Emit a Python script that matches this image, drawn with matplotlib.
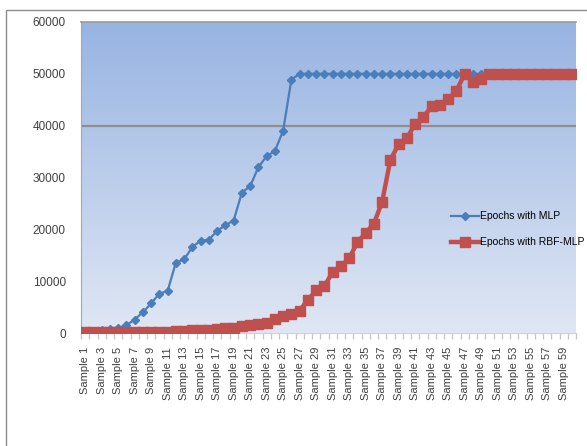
import numpy as np
import matplotlib
matplotlib.use('Agg')
import matplotlib.pyplot as plt
from matplotlib.patches import Rectangle

plt.rcParams['font.family'] = ['Liberation Sans', 'DejaVu Sans']

# samples 1..60
samples = ['Sample ' + str(i) for i in range(1, 61)]

mlp_epochs = [200, 400, 500, 700, 1000, 1500, 2600, 4000, 5700, 7600,
              8100, 13600, 14200, 16600, 17800, 18000, 19700, 20800, 21700, 27100,
              28300, 32000, 34100, 35100, 39000, 48900, 50000, 50000, 50000, 50000,
              50000, 50000, 50000, 50000, 50000, 50000, 50000, 50000, 50000, 50000,
              50000, 50000, 50000, 50000, 50000, 50000, 50000, 50000, 50000, 50000,
              50000, 50000, 50000, 50000, 50000, 50000, 50000, 50000, 50000, 50000]

rbf_mlp_epochs = [100, 100, 100, 150, 150, 200, 250, 250, 250, 250,
                  250, 300, 300, 500, 550, 600, 800, 950, 1000, 1400,
                  1500, 1800, 2000, 2700, 3200, 3700, 4300, 6400, 8200, 9000,
                  11800, 12900, 14400, 17500, 19300, 21100, 25300, 33400, 36400, 37600,
                  40300, 41700, 43700, 44000, 45100, 46700, 50000, 48500, 49000, 50000,
                  50000, 50000, 50000, 50000, 50000, 50000, 50000, 50000, 50000, 50000]

y_ticks = [0, 10000, 20000, 30000, 40000, 50000, 60000]

W, H = 587, 446
fig = plt.figure(figsize=(W / 100, H / 100), dpi=100)
ax = fig.add_axes([81 / W, 1 - 333 / H, (576 - 81) / W, (333 - 22) / H])

x = np.arange(1, len(samples) + 1)

# gradient background of the plot area
top = np.array([151, 180, 226]) / 255
bottom = np.array([224, 231, 244]) / 255
t = np.linspace(0, 1, 256)[:, None]
grad = (top * (1 - t) + bottom * t)[:, None, :]
ax.imshow(grad, extent=[0.5, 60.5, 0, 60000], aspect='auto', zorder=0)

ax.axhline(40000, color='#8e8e8e', lw=1.6, zorder=1)

ax.plot(x, mlp_epochs, color='#4a7ebb', lw=1.6, marker='D', markersize=4.5,
        label='Epochs with MLP', zorder=3)
ax.plot(x, rbf_mlp_epochs, color='#c0504d', lw=3.2, marker='s', markersize=7,
        label='Epochs with RBF-MLP', zorder=4)

ax.set_xlim(0.5, 60.5)
ax.set_ylim(0, 60000)
ax.set_yticks(y_ticks)
ax.set_yticklabels([str(v) for v in y_ticks], fontsize=8.5, color='#404040')
ax.tick_params(axis='y', length=0, pad=11)

ax.set_xticks(x[::2])
ax.set_xticklabels(samples[::2], rotation=90, fontsize=8, color='#404040')
ax.set_xticks(np.arange(0.5, 61, 1), minor=True)
ax.tick_params(axis='x', which='major', length=0, pad=10)
ax.tick_params(axis='x', which='minor', length=4, color='#c8c8c8', width=1)

ax.spines['right'].set_visible(False)
ax.spines['top'].set_color('#999999')
ax.spines['top'].set_linewidth(1.2)
ax.spines['left'].set_color('#a6a6a6')
ax.spines['bottom'].set_color('#d0d0d0')

ax.legend(loc='upper left', bbox_to_anchor=(0.74, 0.405), frameon=False,
          fontsize=7.5, handlelength=2.6, handletextpad=0.1, labelspacing=1.55,
          borderaxespad=0)

# outer chart border
fig.add_artist(Rectangle((6 / W, -0.1), 1, 1.1 - 10 / H, transform=fig.transFigure,
                         fill=False, ec='#8c8c8c', lw=1))

fig.savefig('out.png', dpi=100)
